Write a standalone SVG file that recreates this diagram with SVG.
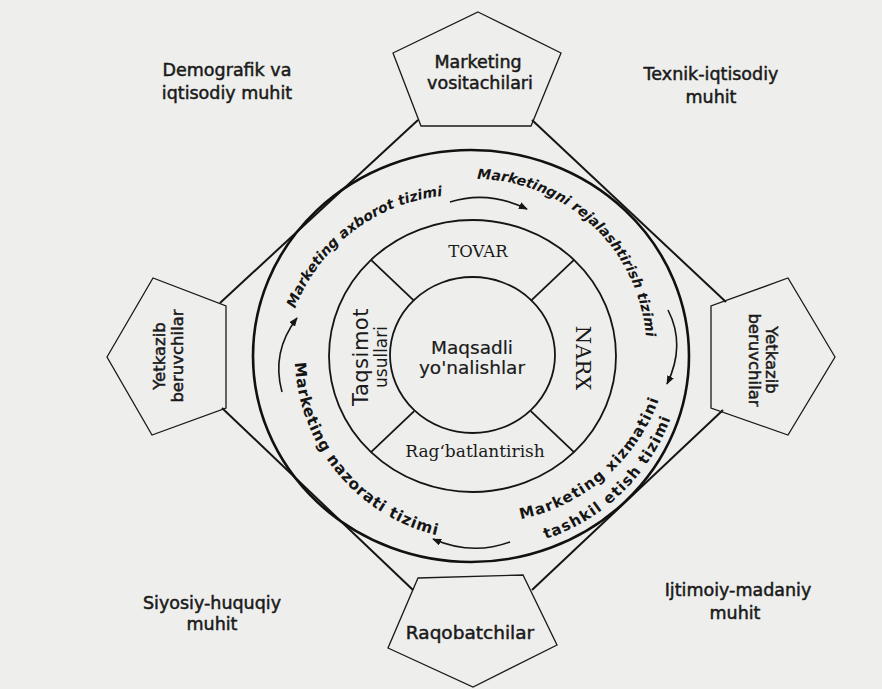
<svg xmlns="http://www.w3.org/2000/svg" width="882" height="689" viewBox="0 0 882 689">
<style>
.pent{fill:none;stroke:#1a1a1a;stroke-width:1.3;stroke-linejoin:miter}
.ring{fill:none;stroke:#151515;stroke-width:1.8}
.outer{fill:none;stroke:#111;stroke-width:2.6}
.conn{fill:none;stroke:#151515;stroke-width:2}
.arr{fill:none;stroke:#151515;stroke-width:1.6;marker-end:url(#ah)}
.lbl{font-family:"DejaVu Sans","Noto Sans",sans-serif;font-size:17.5px;fill:#1a1a1a;text-anchor:middle;stroke:#1a1a1a;stroke-width:0.5}
.ctr{font-family:"DejaVu Sans","Noto Sans",sans-serif;font-size:18.5px;fill:#1a1a1a;text-anchor:middle;stroke:#1a1a1a;stroke-width:0.2}
.ser{font-family:"DejaVu Serif","Liberation Serif",serif;fill:#1a1a1a;text-anchor:middle}
.arc{font-family:"DejaVu Sans","Noto Sans",sans-serif;font-weight:bold;fill:#151515}
</style>
<defs>
<marker id="ah" viewBox="0 0 10 8" refX="9" refY="4" markerWidth="9" markerHeight="7.2" markerUnits="userSpaceOnUse" orient="auto">
<path d="M0,0 L10,4 L0,8 z" fill="#151515"/>
</marker>
<path id="p1" d="M288.3,329.9 A178,178 0 0,1 464.7,195"/>
<path id="p2" d="M452.1,180.4 A172,172 0 0,1 646.1,362"/>
<path id="p3a" d="M496.1,522.5 A187,187 0 0,0 666,374.9"/>
<path id="p3b" d="M515.6,546.3 A199,199 0 0,0 679.1,387.9"/>
<path id="p4" d="M295.6,338.2 A185,185 0 0,0 461.4,539.4"/>
</defs>
<rect width="882" height="689" fill="#eeeeec"/>

<g id="connectors">
<line class="conn" x1="418" y1="120" x2="220" y2="303"/>
<line class="conn" x1="532" y1="120" x2="726" y2="302"/>
<line class="conn" x1="222" y1="408" x2="413" y2="590"/>
<line class="conn" x1="723" y1="410" x2="532" y2="590"/>
<path class="arr" d="M450,202 Q488,190 527,209"/>
<path class="arr" d="M668,310 Q686,345 667,384"/>
<path class="arr" d="M510,542 Q472,556 433,539"/>
<path class="arr" d="M282,392 Q271,352 297,318"/>
</g>

<g id="marketing-ring">
<ellipse class="outer" cx="471" cy="356" rx="218" ry="206"/>
<text class="arc" font-size="14" font-style="italic"><textPath href="#p1" startOffset="50%" text-anchor="middle">Marketing axborot tizimi</textPath></text>
<text class="arc" font-size="14" font-style="italic"><textPath href="#p2" startOffset="50%" text-anchor="middle">Marketingni rejalashtirish tizimi</textPath></text>
<text class="arc" font-size="15" letter-spacing="1.2"><textPath href="#p3a" startOffset="50%" text-anchor="middle">Marketing xizmatini</textPath></text>
<text class="arc" font-size="15" letter-spacing="1.2"><textPath href="#p3b" startOffset="50%" text-anchor="middle">tashkil etish tizimi</textPath></text>
<text class="arc" font-size="15.5" letter-spacing="0.8"><textPath href="#p4" startOffset="50%" text-anchor="middle">Marketing nazorati tizimi</textPath></text>
</g>

<g id="mix-ring">
<ellipse class="ring" cx="472.5" cy="356" rx="143.5" ry="136"/>
<line class="ring" x1="414.2" y1="300.8" x2="371" y2="259.8"/>
<line class="ring" x1="530.8" y1="300.8" x2="574" y2="259.8"/>
<line class="ring" x1="414.2" y1="411.2" x2="371" y2="452.2"/>
<line class="ring" x1="530.8" y1="411.2" x2="574" y2="452.2"/>
<text class="ser" x="478" y="257" font-size="16.5">TOVAR</text>
<text class="ser" font-size="21" transform="translate(576,358) rotate(90)" x="0" y="0">NARX</text>
<text class="ser" x="475" y="457" font-size="17">Rag‘batlantirish</text>
<g font-family="DejaVu Sans, Noto Sans, sans-serif" fill="#1a1a1a" text-anchor="middle" transform="translate(368,357) rotate(-90)">
<text x="0" y="0" font-size="21" letter-spacing="0.5">Taqsimot</text>
<text x="0" y="19" font-size="17">usullari</text>
</g>
</g>

<g id="center">
<ellipse class="ring" cx="472.5" cy="355" rx="82.5" ry="78"/>
<text class="ctr" x="472" y="354">Maqsadli</text>
<text class="ctr" x="472" y="374">yo'nalishlar</text>
</g>

<g id="marketing-vositachilari">
<polygon class="pent" points="478,12 561,53 531,126 421,126 393,53"/>
<text class="lbl" x="478" y="68">Marketing</text>
<text class="lbl" x="480" y="89">vositachilari</text>
</g>

<g id="yetkazib-left">
<polygon class="pent" points="107,357 153,278 226,306 226,408 152,435"/>
<text class="lbl" style="font-size:16.5px" transform="translate(174,356) rotate(-90)" x="0" y="-9">Yetkazib</text>
<text class="lbl" style="font-size:16.5px" transform="translate(174,356) rotate(-90)" x="0" y="9">beruvchilar</text>
</g>

<g id="yetkazib-right">
<polygon class="pent" points="835,357 788,278 711,306 711,408 788,435"/>
<text class="lbl" style="font-size:16.5px" transform="translate(757,360) rotate(90)" x="0" y="-9">Yetkazib</text>
<text class="lbl" style="font-size:16.5px" transform="translate(757,360) rotate(90)" x="0" y="8">beruvchilar</text>
</g>

<g id="raqobatchilar">
<polygon class="pent" points="418,578 523,575 557,645 473,687 388,648"/>
<text class="lbl" x="470" y="639" style="font-size:18.5px">Raqobatchilar</text>
</g>

<g id="demografik">
<text class="lbl" x="227" y="76">Demografik va</text>
<text class="lbl" x="227" y="99">iqtisodiy muhit</text>
</g>
<g id="texnik">
<text class="lbl" x="711" y="80">Texnik-iqtisodiy</text>
<text class="lbl" x="711" y="103">muhit</text>
</g>
<g id="siyosiy">
<text class="lbl" x="212" y="609">Siyosiy-huquqiy</text>
<text class="lbl" x="212" y="630">muhit</text>
</g>
<g id="ijtimoiy">
<text class="lbl" x="738" y="596">Ijtimoiy-madaniy</text>
<text class="lbl" x="735" y="619">muhit</text>
</g>
</svg>
